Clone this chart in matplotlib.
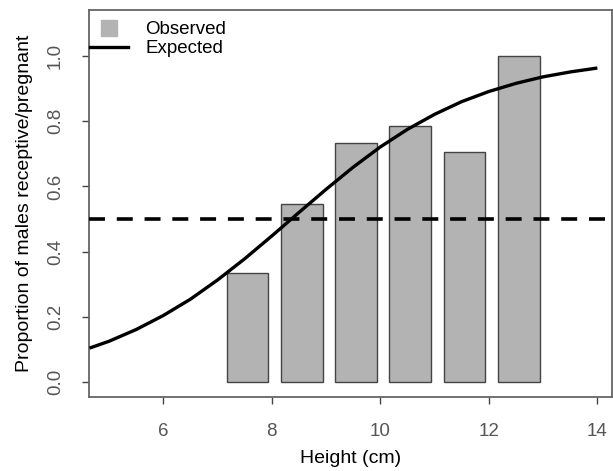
import numpy as np
import matplotlib
matplotlib.use("Agg")
import matplotlib.pyplot as plt
from matplotlib.lines import Line2D

# observed proportions per height class
bar_centers = [7.55, 8.55, 9.55, 10.55, 11.55, 12.55]
observed = [0.333, 0.545, 0.733, 0.786, 0.706, 1.0]

# expected curve
curve_x = [4.64, 5.0, 5.5, 6.0, 6.5, 7.0, 7.5, 8.0, 8.5, 9.0, 9.5,
           10.0, 10.5, 11.0, 11.5, 12.0, 12.5, 13.0, 13.5, 14.0]
curve_y = [0.104, 0.125, 0.161, 0.204, 0.254, 0.313, 0.378, 0.448, 0.520, 0.591, 0.659,
           0.721, 0.775, 0.821, 0.860, 0.891, 0.916, 0.936, 0.951, 0.963]

threshold = 0.5

x_ticks = [6, 8, 10, 12, 14]
y_ticks = [0.0, 0.2, 0.4, 0.6, 0.8, 1.0]

plt.rcParams["font.family"] = ["Liberation Sans", "DejaVu Sans"]
plt.rcParams["lines.scale_dashes"] = False

W, H = 613, 471
fig = plt.figure(figsize=(W / 100, H / 100), dpi=100)
ax = fig.add_axes([89 / W, 1 - 397 / H, (612 - 89) / W, (397 - 10) / H])

ax.bar(bar_centers, observed, width=0.77, color="#b3b3b3", edgecolor="#444444", linewidth=1.0, zorder=2)
ax.plot(curve_x, curve_y, color="black", lw=2.4, zorder=3, solid_capstyle="butt")
ax.axhline(threshold, color="black", lw=2.6, dashes=(11.5, 8.5), zorder=4)

ax.set_xlim(4.63, 14.27)
ax.set_ylim(-0.046, 1.141)
ax.set_xticks(x_ticks)
ax.set_yticks(y_ticks)
ax.set_xticklabels([str(t) for t in x_ticks])
ax.set_yticklabels(["%.1f" % t for t in y_ticks], rotation=90, va="center")
ax.tick_params(direction="out", length=5, width=1, color="#444444", labelcolor="#555555", labelsize=13.5)
ax.tick_params(axis="x", pad=14)
ax.tick_params(axis="y", pad=13)
for s in ax.spines.values():
    s.set_color("#666666")
    s.set_linewidth(1.3)

ax.set_xlabel("Height (cm)", fontsize=14, labelpad=7)
ax.set_ylabel("Proportion of males receptive/pregnant", fontsize=14, labelpad=10)

handles = [Line2D([], [], marker="s", color="#b3b3b3", markersize=11.5, linestyle="none"),
           Line2D([], [], color="black", lw=2.4)]
leg = ax.legend(handles, ["Observed", "Expected"], loc="upper left",
                bbox_to_anchor=(90 / W, 1 - 21 / H), bbox_transform=fig.transFigure,
                frameon=False, handlelength=2.0, handletextpad=0.95, labelspacing=0.1,
                borderaxespad=0, borderpad=0, prop={"size": 13.5})

fig.savefig("out.png", dpi=100)
